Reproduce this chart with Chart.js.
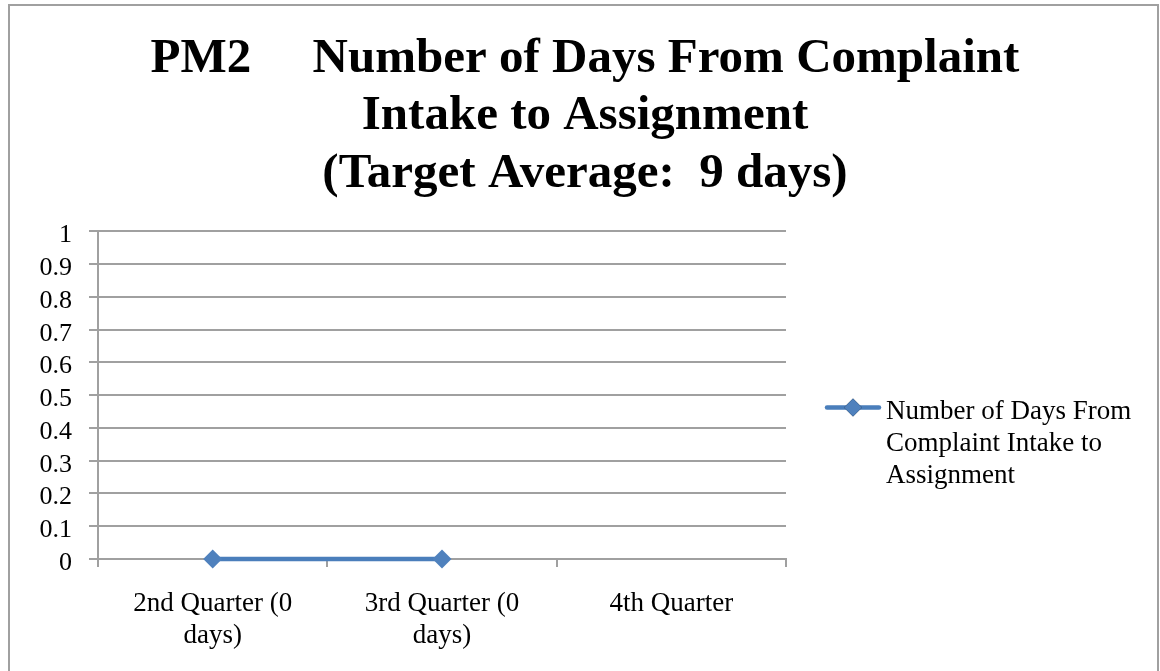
<!DOCTYPE html>
<html>
<head>
<meta charset="utf-8">
<title>PM2 Number of Days From Complaint Intake to Assignment</title>
<script src="https://cdn.jsdelivr.net/npm/chart.js@4.4.0/dist/chart.umd.min.js"></script>
<style>
  html, body { margin: 0; padding: 0; background: #ffffff; }
  canvas { display: block; }
</style>
</head>
<body>
<canvas id="grafico-pm2" width="1160" height="671"></canvas>
<script>
// Chart data
const titleLines = [
    "PM2     Number of Days From Complaint",
    "Intake to Assignment",
    "(Target Average:  9 days)"
];
const quarters = [
    ["2nd Quarter (0", "days)"],
    ["3rd Quarter (0", "days)"],
    ["4th Quarter"]
];
const seriesLabel = "Number of Days From Complaint Intake to Assignment";
const legendLines = ["Number of Days From", "Complaint Intake to", "Assignment"];
const daysValues = [0, 0, null];
const yMin = 0;
const yMax = 1;
const yStep = 0.1;

const gris = "#a0a0a0";
const azul = "#4f81bd";
const serif = "'Liberation Serif', 'Times New Roman', serif";

// marco alrededor del grafico
const marco = {
    id: 'marco',
    beforeDraw(chart) {
        const ctx = chart.ctx;
        ctx.save();
        ctx.fillStyle = "#ffffff";
        ctx.fillRect(0, 0, chart.width, chart.height);
        ctx.strokeStyle = gris;
        ctx.lineWidth = 2;
        ctx.strokeRect(9, 5, 1149, 720);
        ctx.restore();
    }
};

// leyenda a la derecha, con texto en varias lineas
const leyenda = {
    id: 'leyenda',
    beforeInit(chart) {
        const box = {
            position: 'right',
            weight: 0,
            fullSize: false,
            options: {},
            width: 0,
            height: 0,
            isHorizontal() { return false; },
            update(maxWidth, maxHeight) {
                this.width = 374;
                this.height = maxHeight;
            },
            draw() {
                const ctx = chart.ctx;
                const ds = chart.data.datasets[0];
                const y = this.top + 176;
                ctx.save();
                ctx.strokeStyle = ds.borderColor;
                ctx.lineWidth = ds.borderWidth;
                ctx.lineCap = 'round';
                ctx.beginPath();
                ctx.moveTo(this.left + 41, y);
                ctx.lineTo(this.left + 93, y);
                ctx.stroke();
                Chart.helpers.drawPoint(ctx, {
                    pointStyle: 'rectRot',
                    radius: 9,
                    borderWidth: 0
                }, this.left + 67, y);
                ctx.fillStyle = ds.pointBackgroundColor;
                ctx.fill();
                ctx.fillStyle = "#000000";
                ctx.font = "27px " + serif;
                ctx.textAlign = 'left';
                ctx.textBaseline = 'middle';
                legendLines.forEach((linea, i) => {
                    ctx.fillText(linea, this.left + 100, this.top + 180 + i * 32);
                });
                ctx.restore();
            }
        };
        Chart.layouts.addBox(chart, box);
    }
};

const ctx1 = document.getElementById('grafico-pm2').getContext("2d");
new Chart(ctx1, {
    type: "line",
    data: {
        labels: quarters,
        datasets: [{
            label: seriesLabel,
            data: daysValues,
            borderColor: "#4a7ebb",
            borderWidth: 4.5,
            pointStyle: 'rectRot',
            pointRadius: 9.5,
            pointHoverRadius: 9.5,
            pointBackgroundColor: azul,
            pointBorderColor: azul,
            pointBorderWidth: 0,
            fill: false,
            tension: 0,
            spanGaps: false,
            clip: false
        }]
    },
    options: {
        responsive: false,
        animation: false,
        devicePixelRatio: 1,
        layout: {
            padding: { left: 10, right: 0, top: 0, bottom: 0 }
        },
        plugins: {
            legend: { display: false },
            tooltip: { enabled: false },
            title: {
                display: true,
                text: titleLines,
                color: "#000000",
                font: { family: serif, size: 49, weight: 'bold', lineHeight: 1.18 },
                padding: { top: 30, bottom: 28 }
            }
        },
        scales: {
            x: {
                type: 'category',
                offset: true,
                afterFit(scale) { scale.height = 112; },
                grid: {
                    offset: true,
                    drawOnChartArea: false,
                    drawTicks: true,
                    tickLength: 8,
                    color: gris,
                    lineWidth: 2
                },
                border: { display: true, color: gris, width: 2 },
                ticks: {
                    color: "#000000",
                    font: { family: serif, size: 27, lineHeight: 1.19 },
                    padding: 21,
                    maxRotation: 0,
                    autoSkip: false
                }
            },
            y: {
                min: yMin,
                max: yMax,
                afterFit(scale) { scale.width = 88; },
                grid: {
                    color: gris,
                    lineWidth: 2,
                    drawTicks: true,
                    tickLength: 9
                },
                border: { display: true, color: gris, width: 2 },
                ticks: {
                    stepSize: yStep,
                    autoSkip: false,
                    color: "#000000",
                    font: { family: serif, size: 26 },
                    padding: 17,
                    labelOffset: 4,
                    callback: (value) => String(Number(value.toFixed(1)))
                }
            }
        }
    },
    plugins: [marco, leyenda]
});
</script>
</body>
</html>
